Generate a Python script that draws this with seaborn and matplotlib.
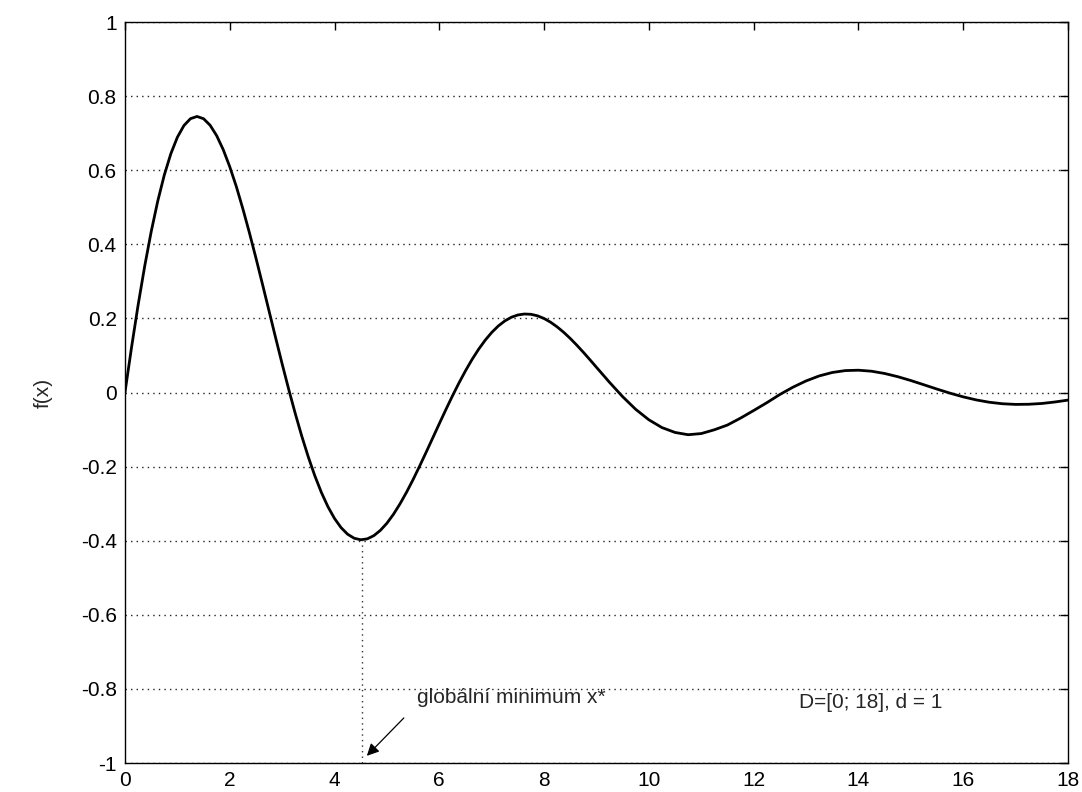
import matplotlib
matplotlib.use("Agg")
import matplotlib.pyplot as plt
import seaborn as sns

# ---- data ----
x_vals = [0.0, 0.125, 0.25, 0.375, 0.5, 0.625, 0.75, 0.875, 1.0, 1.125, 1.25, 1.375, 1.5, 1.625,
          1.75, 1.875, 2.0, 2.125, 2.25, 2.375, 2.5, 2.625, 2.75, 2.875,
          3.0, 3.125, 3.25, 3.375, 3.5, 3.625, 3.75, 3.875, 4.0, 4.125, 4.25, 4.375, 4.5, 4.625,
          4.75, 4.875, 5.0, 5.125, 5.25, 5.375, 5.5, 5.625, 5.75, 5.875,
          6.0, 6.125, 6.25, 6.375, 6.5, 6.625, 6.75, 6.875, 7.0, 7.125, 7.25, 7.375, 7.5, 7.625,
          7.75, 7.875, 8.0, 8.125, 8.25, 8.375, 8.5, 8.625, 8.75, 8.875,
          9.0, 9.25, 9.5, 9.75, 10.0, 10.25, 10.5, 10.75, 11.0, 11.25, 11.5, 11.75,
          12.0, 12.25, 12.5, 12.75, 13.0, 13.25, 13.5, 13.75, 14.0, 14.25, 14.5, 14.75,
          15.0, 15.25, 15.5, 15.75, 16.0, 16.25, 16.5, 16.75, 17.0, 17.25, 17.5, 17.75, 18.0]
f_vals = [0.0, 0.1216, 0.2353, 0.3398, 0.4338, 0.5163, 0.5867, 0.6443, 0.6889, 0.7205, 0.7391,
          0.7451, 0.7390, 0.7214,
          0.6934, 0.6557, 0.6095, 0.5562, 0.4961, 0.4314, 0.3630, 0.2922, 0.2202, 0.1482,
          0.0774, 0.0089, -0.0565, -0.1178, -0.1742, -0.2251, -0.2700, -0.3084, -0.3400, -0.3647,
          -0.3825, -0.3933, -0.3974, -0.3950,
          -0.3864, -0.3721, -0.3528, -0.3287, -0.3005, -0.2691, -0.2349, -0.1985, -0.1609, -0.1226,
          -0.0842, -0.0463, -0.0095, 0.0256, 0.0586, 0.0891, 0.1166, 0.1410, 0.1620, 0.1794,
          0.1931, 0.2031, 0.2093, 0.2119,
          0.2111, 0.2070, 0.1998, 0.1897, 0.1771, 0.1625, 0.1459, 0.1278, 0.1086, 0.0886,
          0.0681, 0.0274, -0.0112, -0.0455, -0.0736, -0.0946, -0.1078, -0.1139, -0.1108,
          -0.1006, -0.0878, -0.0691,
          -0.0487, -0.0277, -0.0054, 0.0143, 0.0312, 0.0447, 0.0540, 0.0592, 0.0602, 0.0575,
          0.0514, 0.0428,
          0.0324, 0.0209, 0.0093, -0.0018, -0.0117, -0.0200, -0.0263, -0.0303, -0.0321,
          -0.0317, -0.0296, -0.0256, -0.0205]
x_star = 4.52
f_star = -0.397
x_ticks = [0, 2, 4, 6, 8, 10, 12, 14, 16, 18]
y_ticks = [-1, -0.8, -0.6, -0.4, -0.2, 0, 0.2, 0.4, 0.6, 0.8, 1]
y_tick_labels = ['-1', '-0.8', '-0.6', '-0.4', '-0.2', '0', '0.2', '0.4', '0.6', '0.8', '1']
annot_text = "globální minimum x*"
domain_text = "D=[0; 18], d = 1"
y_label = "f(x)"

# ---- figure ----
sns.set_style("white")
plt.rcParams['font.family'] = ['Liberation Sans', 'DejaVu Sans']

fig = plt.figure(figsize=(10.82, 7.92), dpi=100)
ax = fig.add_axes([0.1155, 0.0366, 0.8715, 0.9356])

sns.lineplot(x=x_vals, y=f_vals, ax=ax, color='black', linewidth=2.0, estimator=None, sort=False)

ax.set_xlim(0, 18)
ax.set_ylim(-1, 1)
ax.set_xticks(x_ticks)
ax.set_xticklabels([str(t) for t in x_ticks])
ax.set_yticks(y_ticks)
ax.set_yticklabels(y_tick_labels)

ax.yaxis.grid(True, linestyle=(0, (1, 3)), color='#222222', linewidth=1.0)
ax.xaxis.grid(False)

ax.tick_params(direction='in', length=6, width=1, top=True, right=True,
               labelsize=15, colors='black', pad=6)
for sp in ax.spines.values():
    sp.set_color('black')
    sp.set_linewidth(1.0)

# vertical dotted line at the global minimum
ax.plot([x_star, x_star], [-1, f_star], linestyle=(0, (1, 3)), color='#333333', linewidth=1.0)

ax.annotate("", xy=(4.58, -0.986), xytext=(5.36, -0.873),
            arrowprops=dict(arrowstyle='-|>', color='black', lw=0.9, mutation_scale=18))
ax.text(5.57, -0.822, annot_text, fontsize=15, va='center', ha='left')
ax.text(12.86, -0.838, domain_text, fontsize=15, va='center', ha='left')

ax.set_ylabel(y_label, fontsize=15, labelpad=20)

fig.savefig("out.png", dpi=100)
